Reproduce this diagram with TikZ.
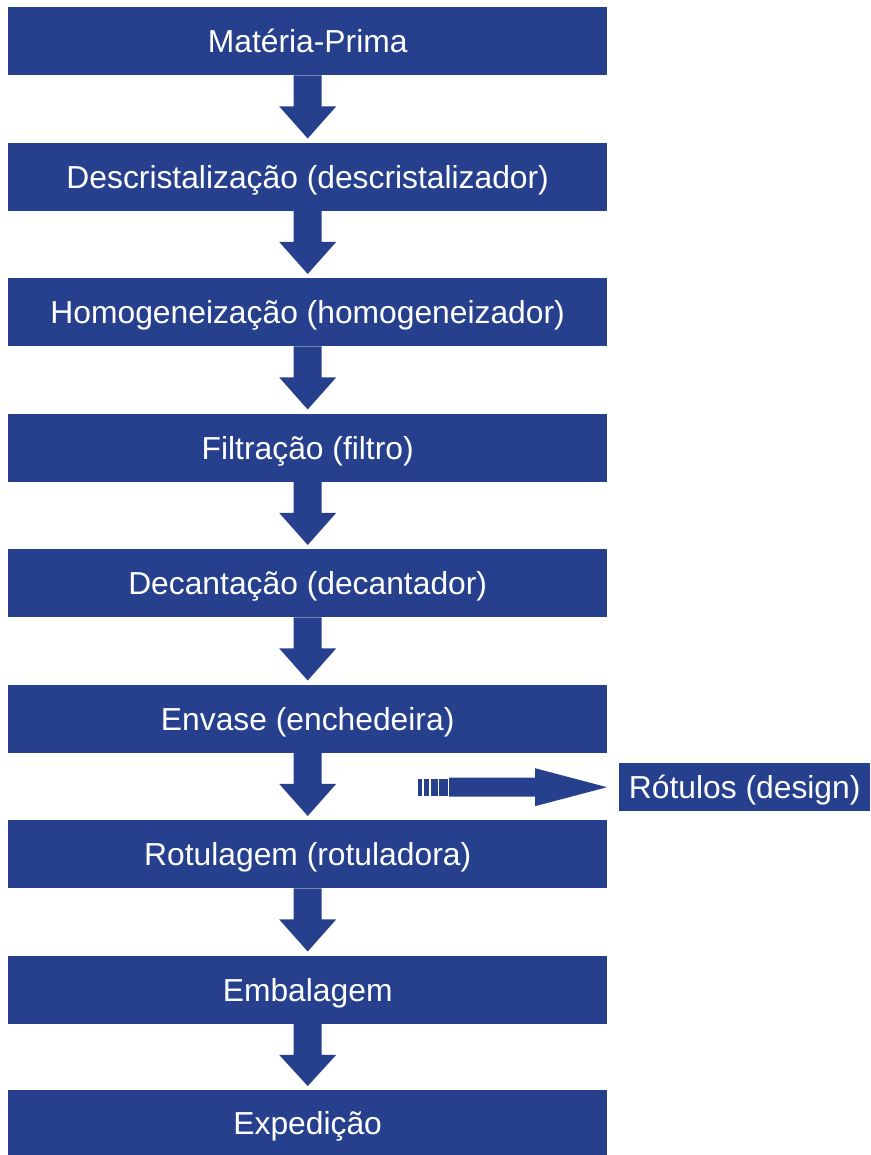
\documentclass[tikz,border=0pt]{standalone}
\usepackage{fontspec}
\setmainfont{Liberation Sans}
\usetikzlibrary{calc}
\definecolor{fbblue}{RGB}{38,64,142}
\tikzset{
  boxtext/.style={text=white, inner sep=0pt, font=\fontsize{31.8}{36}\selectfont, text height=22.8pt, text depth=0pt},
  stepbox/.style={boxtext, fill=fbblue, draw=none, minimum width=599pt, minimum height=68pt, anchor=north west},
  sidebox/.style={boxtext, fill=fbblue, draw=none, minimum width=251pt, minimum height=48pt, anchor=north west},
  arrowfill/.style={fill=fbblue, draw=none}
}
\newcommand{\downarr}[2]{%
  \fill[arrowfill] ($(#1.south)+(-14,0)$) -- ($(#1.south)+(-14,31)$) -- ($(#1.south)+(-28.5,31)$)
    -- ($(#2.north)+(0,-4)$) -- ($(#1.south)+(28.5,31)$) -- ($(#1.south)+(14,31)$) -- ($(#1.south)+(14,0)$) -- cycle;}
\begin{document}
\begin{tikzpicture}[x=1pt,y=-1pt]
\useasboundingbox (0,0) rectangle (870,1155);
\node[stepbox] (b1) at (8,7) {Matéria-Prima};
\node[stepbox] (b2) at (8,142.5) {Descristalização (descristalizador)};
\node[stepbox] (b3) at (8,278) {Homogeneização (homogeneizador)};
\node[stepbox] (b4) at (8,413.5) {Filtração (filtro)};
\node[stepbox] (b5) at (8,549) {Decantação (decantador)};
\node[stepbox] (b6) at (8,684.5) {Envase (enchedeira)};
\node[stepbox] (b7) at (8,820) {Rotulagem (rotuladora)};
\node[stepbox] (b8) at (8,955.5) {Embalagem};
\node[stepbox, minimum height=65pt] (b9) at (8,1090) {Expedição};
\node[sidebox] (rot) at (619,763) {Rótulos (design)};
\downarr{b1}{b2}
\downarr{b2}{b3}
\downarr{b3}{b4}
\downarr{b4}{b5}
\downarr{b5}{b6}
\downarr{b6}{b7}
\downarr{b7}{b8}
\downarr{b8}{b9}
% striped arrow to Rótulos
\coordinate (tip) at ($(rot.west)+(-12,0)$);
\fill[arrowfill] ($(tip)+(-158,-9.5)$) -- ($(tip)+(-72,-9.5)$) -- ($(tip)+(-72,-19)$) -- (tip)
  -- ($(tip)+(-72,19)$) -- ($(tip)+(-72,9.5)$) -- ($(tip)+(-158,9.5)$) -- cycle;
\fill[arrowfill] ($(tip)+(-189,-8.5)$) rectangle ($(tip)+(-185,8.5)$);
\fill[arrowfill] ($(tip)+(-183.5,-8.5)$) rectangle ($(tip)+(-178.5,8.5)$);
\fill[arrowfill] ($(tip)+(-176.5,-8.5)$) rectangle ($(tip)+(-169.5,8.5)$);
\fill[arrowfill] ($(tip)+(-168,-8.5)$) rectangle ($(tip)+(-159,8.5)$);
\end{tikzpicture}
\end{document}
